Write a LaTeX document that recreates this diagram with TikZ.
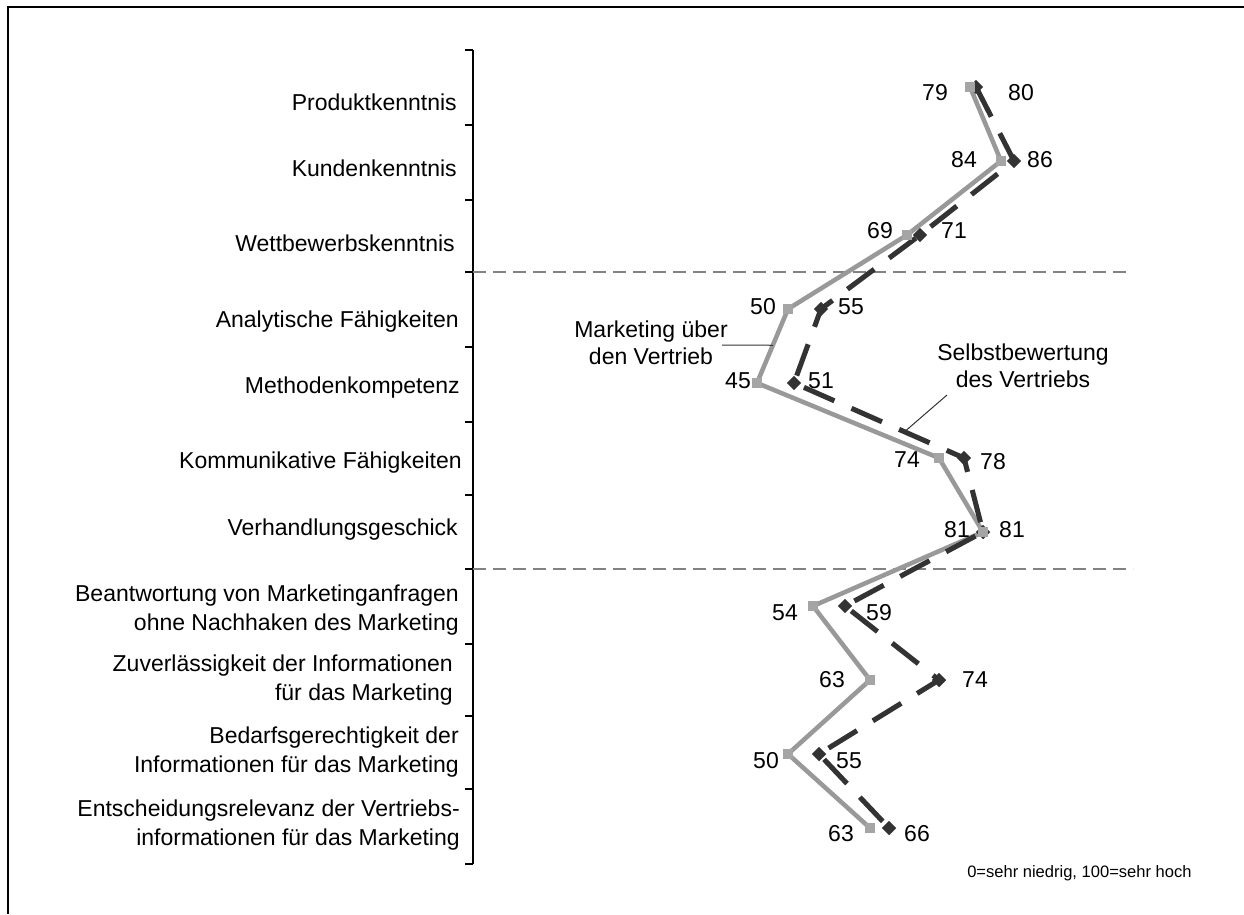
\documentclass[tikz,border=0pt]{standalone}
\usepackage{fontspec}
\setmainfont{Liberation Sans}
\usetikzlibrary{shapes.geometric, calc}
\definecolor{seriesgray}{RGB}{153,153,153}
\definecolor{markgray}{RGB}{165,165,165}
\definecolor{seriesdark}{RGB}{51,51,51}
\definecolor{sepgray}{RGB}{130,130,130}

\begin{document}
\begin{tikzpicture}[
    x=0.75pt, y=-0.75pt,
    category/.style={anchor=base east, align=right, inner sep=0pt, font=\fontsize{17.25}{21.4}\selectfont},
    value/.style={inner sep=0pt, font=\fontsize{17.25}{20}\selectfont},
    note/.style={align=center, inner sep=0pt, font=\fontsize{17.25}{20.5}\selectfont},
    footnote/.style={anchor=base west, inner sep=0pt, font=\fontsize{12.4}{14}\selectfont},
    axisline/.style={draw=black, line width=1.8pt},
    grayline/.style={draw=seriesgray, line width=3.4pt, line join=miter},
    darkline/.style={draw=seriesdark, line width=3.8pt, dash pattern=on 25pt off 14pt},
    graymark/.style={rectangle, fill=markgray, inner sep=0pt, minimum size=7.2pt},
    darkmark/.style={diamond, fill=seriesdark, inner sep=0pt, minimum size=11pt},
    separator/.style={draw=sepgray, line width=1.5pt, dash pattern=on 9.75pt off 5.25pt},
    leader/.style={draw=seriesdark, line width=0.75pt}
]
    \useasboundingbox (0,0) rectangle (1244,914);

    % Frame
    \draw[line width=1.8pt] (1244,7) -- (8,7) -- (8,914);

    % Axis
    \coordinate (axtop) at (473,50);
    \coordinate (axbot) at (473,864);
    \draw[axisline] (axtop) -- (axbot);
    \foreach \ty in {50,125,200,272,347,422,495,569,644,716,789,864}
        \draw[axisline] (465,\ty) -- (473,\ty);

    % Separators
    \coordinate (sepa) at (473,272);
    \coordinate (sepb) at (473,569);
    \draw[separator] (sepa) -- (1128,272);
    \draw[separator] (sepb) -- (1133,569);

    % Categories
    \node[category] (produkt) at (457,110) {Produktkenntnis};
    \node[category] (kunden) at (457,176) {Kundenkenntnis};
    \node[category] (wettbewerb) at (455,251) {Wettbewerbskenntnis};
    \node[category] (analytik) at (459,327) {Analytische Fähigkeiten};
    \node[category] (methoden) at (460,393) {Methodenkompetenz};
    \node[category] (kommunikation) at (462,468) {Kommunikative Fähigkeiten};
    \node[category] (verhandlung) at (458,535) {Verhandlungsgeschick};
    \node[category] (anfragen) at (459,630) {Beantwortung von Marketinganfragen\\ohne Nachhaken des Marketing};
    \node[category] (zuverlaessig) at (453,700) {Zuverlässigkeit der Informationen\\für das Marketing};
    \node[category] (bedarf) at (459,772) {Bedarfsgerechtigkeit der\\Informationen für das Marketing};
    \node[category] (relevanz) at (460,845) {Entscheidungsrelevanz der Vertriebs-\\informationen für das Marketing};

    % Marketing ueber den Vertrieb
    \coordinate (mv1) at (970,87);
    \coordinate (mv2) at (1001,161);
    \coordinate (mv3) at (907,235);
    \coordinate (mv4) at (788,309);
    \coordinate (mv5) at (757,383);
    \coordinate (mv6) at (939,458);
    \coordinate (mv7) at (983,532);
    \coordinate (mv8) at (813,606);
    \coordinate (mv9) at (870,680);
    \coordinate (mv10) at (788,754);
    \coordinate (mv11) at (870,828);

    % Selbstbewertung des Vertriebs
    \coordinate (sv1) at (976,87);
    \coordinate (sv2) at (1014,161);
    \coordinate (sv3) at (920,235);
    \coordinate (sv4) at (821,309);
    \coordinate (sv5) at (794,383);
    \coordinate (sv6) at (964,458);
    \coordinate (sv7) at (983,532);
    \coordinate (sv8) at (845,606);
    \coordinate (sv9) at (939,680);
    \coordinate (sv10) at (819,754);
    \coordinate (sv11) at (889,828);

    % Lines
    \draw[grayline] (mv1) -- (mv2) -- (mv3) -- (mv4) -- (mv5) -- (mv6) -- (mv7) -- (mv8) -- (mv9) -- (mv10) -- (mv11);
    \draw[darkline] (sv1) -- (sv2) -- (sv3) -- (sv4) -- (sv5) -- (sv6) -- (sv7) -- (sv8) -- (sv9) -- (sv10) -- (sv11);

    % Markers
    \foreach \i in {1,...,11} {
        \node[darkmark] (svm\i) at (sv\i) {};
        \node[graymark] (mvm\i) at (mv\i) {};
    }

    % Values
    \node[value] (mval1) at (935,93) {79};
    \node[value] (mval2) at (964,160) {84};
    \node[value] (mval3) at (880,231) {69};
    \node[value] (mval4) at (763,307) {50};
    \node[value] (mval5) at (738,381) {45};
    \node[value] (mval6) at (907,460) {74};
    \node[value] (mval7) at (957,530) {81};
    \node[value] (mval8) at (785,613) {54};
    \node[value] (mval9) at (832,680) {63};
    \node[value] (mval10) at (766,761) {50};
    \node[value] (mval11) at (841,834) {63};

    \node[value] (sval1) at (1021,93) {80};
    \node[value] (sval2) at (1040,160) {86};
    \node[value] (sval3) at (954,231) {71};
    \node[value] (sval4) at (851,307) {55};
    \node[value] (sval5) at (821,381) {51};
    \node[value] (sval6) at (993,462) {78};
    \node[value] (sval7) at (1012,530) {81};
    \node[value] (sval8) at (879,613) {59};
    \node[value] (sval9) at (975,680) {74};
    \node[value] (sval10) at (849,761) {55};
    \node[value] (sval11) at (917,834) {66};

    % Legend notes
    \node[note] (mvnote) at (651,343) {Marketing über\\den Vertrieb};
    \coordinate (mvlead) at (722,345);
    \coordinate (mvhit) at ($(mv4)!0.49!(mv5)$);
    \draw[leader] (mvlead) -- (mvhit);

    \node[note] (svnote) at (1023,366) {Selbstbewertung\\des Vertriebs};
    \coordinate (svlead) at (947,395);
    \coordinate (svhit) at ($(sv5)!0.65!(sv6)$);
    \draw[leader] (svlead) -- (svhit);

    \node[footnote] (scale) at (967,877) {0=sehr niedrig, 100=sehr hoch};
\end{tikzpicture}
\end{document}
